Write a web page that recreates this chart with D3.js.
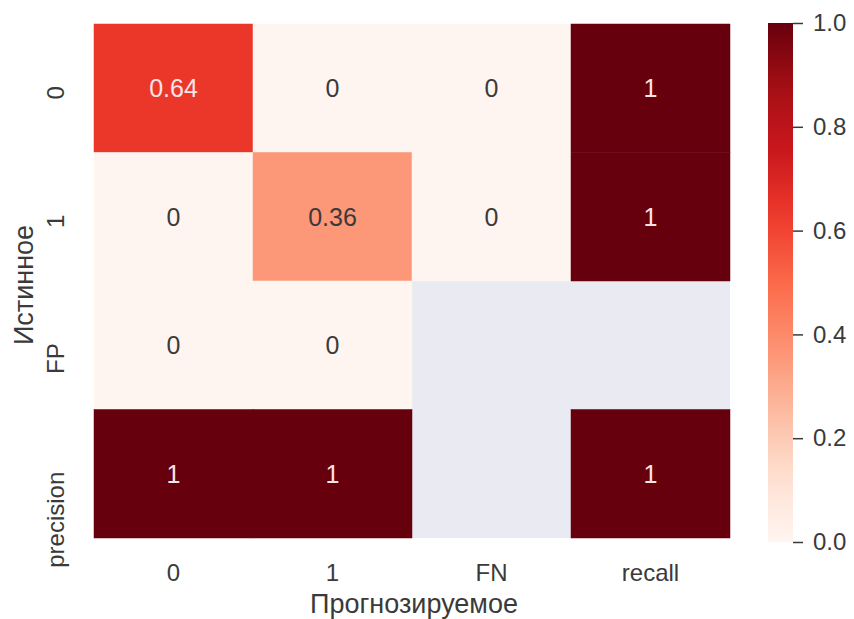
<!DOCTYPE html>
<html>
<head>
<meta charset="utf-8">
<script src="https://cdn.jsdelivr.net/npm/d3@7"></script>
<style>
  html, body { margin: 0; padding: 0; background: #ffffff; }
  svg { display: block; }
  text { font-family: "Liberation Sans", Arial, sans-serif; }
</style>
</head>
<body>
<svg id="chart" width="854" height="619"></svg>
<script>
// Confusion matrix with per-class precision / recall, normalised shares
const rowLabels = ["0", "1", "FP", "precision"];
const colLabels = ["0", "1", "FN", "recall"];
const row0 = [0.64, 0, 0, 1];
const row1 = [0, 0.36, 0, 1];
const rowFP = [0, 0, null, null];
const rowPrecision = [1, 1, null, 1];
const matrix = [row0, row1, rowFP, rowPrecision];
const colorbarTicks = [0, 0.2, 0.4, 0.6, 0.8, 1.0];
const xTitle = "Прогнозируемое";
const yTitle = "Истинное";

// matplotlib "Reds" colormap stops
const redsStops = ["#fff5f0", "#fee0d2", "#fcbba1", "#fc9272", "#fb6a4a",
                   "#ef3b2c", "#cb181d", "#a50f15", "#67000d"];
const color = d3.scaleLinear()
  .domain(redsStops.map((_, i) => i / (redsStops.length - 1)))
  .range(redsStops)
  .interpolate(d3.interpolateRgb)
  .clamp(true);

const textColor = "#3a3a3a";
const svg = d3.select("#chart");
const plot = { left: 94, right: 730, top: 24, bottom: 538 };

const x = d3.scaleBand().domain(colLabels).range([plot.left, plot.right]);
const y = d3.scaleBand().domain(rowLabels).range([plot.top, plot.bottom]);

// axes background (visible where a cell has no value)
svg.append("rect")
  .attr("x", plot.left).attr("y", plot.top)
  .attr("width", plot.right - plot.left).attr("height", plot.bottom - plot.top)
  .attr("fill", "#eaeaf2");

const cells = [];
matrix.forEach((row, i) => row.forEach((v, j) => {
  cells.push({ r: rowLabels[i], c: colLabels[j], v });
}));
const filled = cells.filter(d => d.v !== null);

svg.append("g").selectAll("rect")
  .data(filled)
  .join("rect")
  .attr("x", d => x(d.c))
  .attr("y", d => y(d.r))
  .attr("width", x.bandwidth())
  .attr("height", y.bandwidth())
  .attr("fill", d => color(d.v))
  .attr("stroke", d => color(d.v))
  .attr("stroke-width", 0.5);

// annotations: light text on dark cells, dark text on light ones
const fmt = v => (Number.isInteger(v) ? String(v) : d3.format(".2~f")(v));
svg.append("g").selectAll("text")
  .data(filled)
  .join("text")
  .attr("x", d => x(d.c) + x.bandwidth() / 2)
  .attr("y", d => y(d.r) + y.bandwidth() / 2)
  .attr("text-anchor", "middle")
  .attr("dominant-baseline", "central")
  .attr("font-size", 25)
  .attr("fill", d => {
    const c = d3.rgb(color(d.v));
    const lum = 0.2126 * c.r + 0.7152 * c.g + 0.0722 * c.b;
    return lum < 140 ? "#fbe4e6" : textColor;
  })
  .text(d => fmt(d.v));

// x tick labels
svg.append("g").selectAll("text")
  .data(colLabels)
  .join("text")
  .attr("x", d => x(d) + x.bandwidth() / 2)
  .attr("y", 581)
  .attr("text-anchor", "middle")
  .attr("font-size", 24)
  .attr("fill", textColor)
  .text(d => d);

// y tick labels (vertical, ending at the row centre)
svg.append("g").selectAll("text")
  .data(rowLabels)
  .join("text")
  .attr("transform", d => `translate(64,${y(d) + y.bandwidth() / 2 - 2}) rotate(-90)`)
  .attr("text-anchor", "end")
  .attr("font-size", 24)
  .attr("fill", textColor)
  .text(d => d);

// axis titles
svg.append("text")
  .attr("x", (plot.left + plot.right) / 2 + 2)
  .attr("y", 613)
  .attr("text-anchor", "middle")
  .attr("font-size", 27)
  .attr("fill", textColor)
  .text(xTitle);

svg.append("text")
  .attr("transform", `translate(33,${(plot.top + plot.bottom) / 2 + 4}) rotate(-90)`)
  .attr("text-anchor", "middle")
  .attr("font-size", 27)
  .attr("fill", textColor)
  .text(yTitle);

// colorbar
const cb = { x: 768, width: 25, top: 23, bottom: 542 };
const cbScale = d3.scaleLinear().domain([0, 1]).range([cb.bottom, cb.top]);

const defs = svg.append("defs");
const grad = defs.append("linearGradient")
  .attr("id", "reds-grad")
  .attr("x1", 0).attr("y1", 1).attr("x2", 0).attr("y2", 0);
d3.range(0, 1.0001, 0.05).forEach(t => {
  grad.append("stop").attr("offset", t).attr("stop-color", color(t));
});

svg.append("rect")
  .attr("x", cb.x).attr("y", cb.top)
  .attr("width", cb.width).attr("height", cb.bottom - cb.top)
  .attr("fill", "url(#reds-grad)");

const cbAxis = d3.axisRight(cbScale)
  .tickValues(colorbarTicks)
  .tickFormat(d3.format(".1f"))
  .tickSize(10)
  .tickPadding(10);

const cbG = svg.append("g")
  .attr("transform", `translate(${cb.x + cb.width},0)`)
  .call(cbAxis);
cbG.select(".domain").remove();
cbG.selectAll(".tick line").attr("stroke", textColor).attr("stroke-width", 1.5);
cbG.selectAll(".tick text")
  .attr("font-size", 24)
  .attr("fill", textColor)
  .style("font-family", "'Liberation Sans', Arial, sans-serif");
</script>
</body>
</html>
